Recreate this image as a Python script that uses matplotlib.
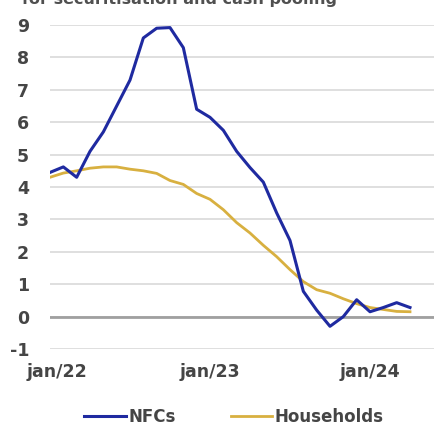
import numpy as np
import matplotlib
matplotlib.use('Agg')
import matplotlib.pyplot as plt
from matplotlib.transforms import ScaledTranslation

plt.rcParams['axes.unicode_minus'] = False

# monthly observations, jan/22 .. apr/24
months = ['jan/22', 'feb/22', 'mar/22', 'apr/22', 'may/22', 'jun/22', 'jul/22', 'aug/22',
          'sep/22', 'oct/22', 'nov/22', 'dec/22', 'jan/23', 'feb/23', 'mar/23', 'apr/23',
          'may/23', 'jun/23', 'jul/23', 'aug/23', 'sep/23', 'oct/23', 'nov/23', 'dec/23',
          'jan/24', 'feb/24', 'mar/24', 'apr/24']

nfcs = [4.45, 4.62, 4.3, 5.1, 5.7, 6.5, 7.3, 8.6, 8.9, 8.92, 8.3, 6.4, 6.15, 5.75,
        5.1, 4.6, 4.15, 3.2, 2.35, 0.78, 0.2, -0.3, 0.0, 0.52, 0.15, 0.28, 0.43, 0.28]

households = [4.3, 4.43, 4.5, 4.58, 4.62, 4.62, 4.55, 4.5, 4.42, 4.2, 4.08, 3.8, 3.62, 3.3,
              2.9, 2.58, 2.2, 1.85, 1.45, 1.08, 0.83, 0.72, 0.55, 0.4, 0.28, 0.22, 0.16, 0.15]

yticks = list(range(-1, 10))
xtick_idx = [0, 12, 24]

blue = '#1f2aa0'
gold = '#d8b040'
txt = '#454545'

W, H = 434, 428
fig = plt.figure(figsize=(W / 100, H / 100), dpi=100)
ax = fig.add_axes([50 / W, 1 - 349 / H, 384 / W, (349 - 25) / H])

x = np.arange(len(months))
ax.plot(x, nfcs, color=blue, lw=2.2, label='NFCs', solid_joinstyle='round', zorder=3)
ax.plot(x, households, color=gold, lw=2.0, label='Households', solid_joinstyle='round', zorder=2)

ax.set_ylim(-1, 9)
ax.set_xlim(0, 28.8)
ax.set_yticks(yticks)
ax.set_xticks(xtick_idx)
ax.set_xticklabels([months[i] for i in xtick_idx])

ax.grid(axis='y', color='#dcdcdc', lw=1.3)
ax.grid(axis='x', visible=False)
ax.axhline(0, color='#a0a0a0', lw=2.0, zorder=1)
ax.set_axisbelow(True)
for s in ax.spines.values():
    s.set_visible(False)

ax.tick_params(axis='both', length=0, labelsize=12.5, labelcolor=txt)
ax.tick_params(axis='y', pad=15)
ax.tick_params(axis='x', pad=10)
for lab in ax.get_xticklabels() + ax.get_yticklabels():
    lab.set_fontweight('bold')
# first date label sits a little right of the first point
first = ax.get_xticklabels()[0]
first.set_transform(first.get_transform() + ScaledTranslation(7 / 100, 0, fig.dpi_scale_trans))

fig.text(22 / W, 1 - 4 / H, 'for securitisation and cash pooling', ha='left', va='baseline',
         fontsize=11.5, fontweight='bold', color='#505050')

leg = fig.legend(loc='center', bbox_to_anchor=(234 / W, 1 - 417 / H), ncol=2, frameon=False,
                 handlelength=2.5, handletextpad=0.15, columnspacing=3.3,
                 prop={'size': 12, 'weight': 'bold'})
for t in leg.get_texts():
    t.set_color(txt)

fig.savefig('out.png', dpi=100)
